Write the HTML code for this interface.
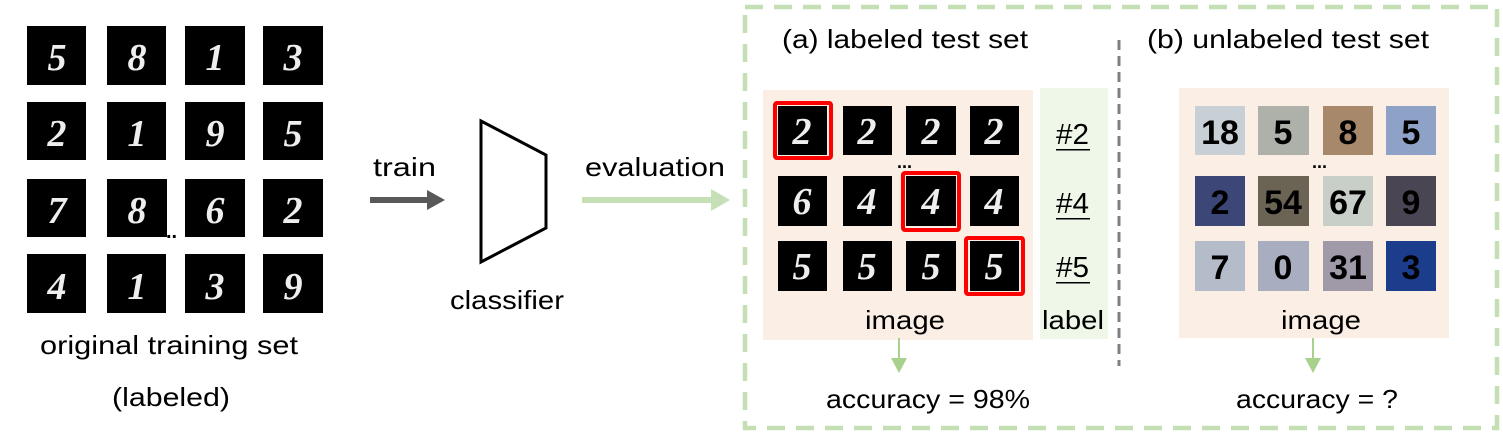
<!DOCTYPE html>
<html><head><meta charset="utf-8"><style>
html,body{margin:0;padding:0;background:#fff;}
svg{display:block;}
text{font-family:"Liberation Sans Narrow","Liberation Sans",sans-serif;fill:#000;}
.d{font-family:"Liberation Serif",serif;font-style:italic;font-weight:bold;fill:#eee;font-size:38px;text-anchor:middle;}
.s{font-family:"Liberation Sans",sans-serif;font-weight:bold;font-size:34px;text-anchor:middle;}
</style></head><body>
<svg width="1503" height="436" viewBox="0 0 1503 436">
<g>
<g fill="#000">
<rect x="27" y="26" width="59" height="59"/><rect x="107" y="26" width="59" height="59"/><rect x="185" y="26" width="60" height="59"/><rect x="263" y="26" width="60" height="59"/>
<rect x="27" y="102" width="59" height="58"/><rect x="107" y="102" width="59" height="58"/><rect x="185" y="102" width="60" height="58"/><rect x="263" y="102" width="60" height="58"/>
<rect x="27" y="179" width="59" height="58"/><rect x="107" y="179" width="60" height="58"/><rect x="185" y="179" width="60" height="58"/><rect x="263" y="179" width="60" height="58"/>
<rect x="27" y="254" width="59" height="59"/><rect x="107" y="254" width="59" height="59"/><rect x="185" y="254" width="60" height="59"/><rect x="263" y="254" width="60" height="59"/>
</g>
<text class="d" x="57" y="70">5</text><text class="d" x="137" y="70">8</text><text class="d" x="215" y="70">1</text><text class="d" x="293" y="70">3</text>
<text class="d" x="57" y="146">2</text><text class="d" x="137" y="146">1</text><text class="d" x="215" y="146">9</text><text class="d" x="293" y="146">5</text>
<text class="d" x="57" y="223">7</text><text class="d" x="137" y="223">8</text><text class="d" x="215" y="223">6</text><text class="d" x="293" y="223">2</text>
<text class="d" x="57" y="299">4</text><text class="d" x="137" y="299">1</text><text class="d" x="215" y="299">3</text><text class="d" x="293" y="299">9</text>
<text x="166" y="238" font-size="20" font-weight="bold">..</text>
</g>
<text x="40" y="354" font-size="26" textLength="258" lengthAdjust="spacingAndGlyphs">original training set</text>
<text x="112" y="406" font-size="26" textLength="118" lengthAdjust="spacingAndGlyphs">(labeled)</text>
<text x="373" y="176" font-size="26" textLength="63" lengthAdjust="spacingAndGlyphs">train</text>
<g>
<rect x="370" y="197" width="58" height="6" fill="#595959"/><polygon points="427,190 445,200 427,210" fill="#595959"/>
</g>
<polygon points="481,121 546,155 546,228 481,262" fill="none" stroke="#000" stroke-width="3"/>
<text x="450" y="309" font-size="26" textLength="114" lengthAdjust="spacingAndGlyphs">classifier</text>
<text x="585" y="176" font-size="26" textLength="140" lengthAdjust="spacingAndGlyphs">evaluation</text>
<g>
<rect x="582" y="197" width="130" height="6" fill="#c5e0b4"/><polygon points="711,189 730,200 711,211" fill="#c5e0b4"/>
</g>
<rect x="745" y="7" width="752" height="421" fill="none" stroke="#c5dfb4" stroke-width="4.5" stroke-dasharray="18,11"/>
<text x="782" y="48" font-size="26" textLength="246" lengthAdjust="spacingAndGlyphs">(a) labeled test set</text>
<text x="1147" y="48" font-size="26" textLength="282" lengthAdjust="spacingAndGlyphs">(b) unlabeled test set</text>
<line x1="1119" y1="40" x2="1119" y2="366" stroke="#7f7f7f" stroke-width="3" stroke-dasharray="10,6"/>
<rect x="763" y="90" width="270" height="250" fill="#fbeee5"/>
<rect x="1040" y="88" width="68" height="251" fill="#eef7e8"/>
<rect x="1179" y="88" width="270" height="250" fill="#fbeee5"/>
<g>
<g fill="#000">
<rect x="778" y="106" width="49" height="49"/><rect x="843" y="106" width="49" height="49"/><rect x="906" y="106" width="50" height="49"/><rect x="970" y="106" width="49" height="49"/>
<rect x="778" y="176" width="49" height="50"/><rect x="843" y="176" width="49" height="50"/><rect x="906" y="176" width="50" height="50"/><rect x="970" y="176" width="49" height="50"/>
<rect x="778" y="241" width="49" height="50"/><rect x="843" y="241" width="49" height="50"/><rect x="906" y="241" width="50" height="50"/><rect x="970" y="241" width="49" height="50"/>
</g>
<text class="d" x="802" y="144" font-size="34">2</text><text class="d" x="867" y="144" font-size="34">2</text><text class="d" x="931" y="144" font-size="34">2</text><text class="d" x="994" y="144" font-size="34">2</text>
<text class="d" x="802" y="214" font-size="34">6</text><text class="d" x="867" y="214" font-size="34">4</text><text class="d" x="931" y="214" font-size="34">4</text><text class="d" x="994" y="214" font-size="34">4</text>
<text class="d" x="802" y="279" font-size="34">5</text><text class="d" x="867" y="279" font-size="34">5</text><text class="d" x="931" y="279" font-size="34">5</text><text class="d" x="994" y="279" font-size="34">5</text>
<g fill="none" stroke="#ff0000" stroke-width="4">
<rect x="775" y="103" width="56" height="55" rx="2"/><rect x="903" y="173" width="56" height="57" rx="2"/><rect x="966" y="238" width="57" height="56" rx="2"/>
</g>
<text x="897" y="168" font-size="18" font-weight="bold">...</text>
</g>
<g font-size="29">
<text x="1056" y="144" textLength="33" lengthAdjust="spacingAndGlyphs">#2</text><rect x="1056" y="149" width="34" height="1.5" fill="#000"/>
<text x="1056" y="213" textLength="33" lengthAdjust="spacingAndGlyphs">#4</text><rect x="1056" y="218" width="34" height="1.5" fill="#000"/>
<text x="1056" y="277" textLength="33" lengthAdjust="spacingAndGlyphs">#5</text><rect x="1056" y="282" width="34" height="1.5" fill="#000"/>
</g>
<text x="1042" y="329" font-size="26" textLength="62" lengthAdjust="spacingAndGlyphs">label</text>
<text x="865" y="329" font-size="26" textLength="80" lengthAdjust="spacingAndGlyphs">image</text>
<g>
<rect x="1195" y="106" width="50" height="49" fill="#c8d0d6"/><rect x="1258" y="106" width="51" height="49" fill="#aeb0aa"/><rect x="1323" y="106" width="50" height="49" fill="#a8886a"/><rect x="1386" y="106" width="50" height="49" fill="#8ea2c8"/>
<rect x="1195" y="176" width="50" height="50" fill="#3c4677"/><rect x="1258" y="176" width="51" height="50" fill="#6b6454"/><rect x="1323" y="176" width="50" height="50" fill="#c8cfc8"/><rect x="1386" y="176" width="50" height="50" fill="#4a4552"/>
<rect x="1195" y="241" width="50" height="50" fill="#b4bcca"/><rect x="1258" y="241" width="51" height="50" fill="#a8aec0"/><rect x="1323" y="241" width="50" height="50" fill="#a09aa8"/><rect x="1386" y="241" width="50" height="50" fill="#1c3c8c"/>
<text class="s" x="1220" y="144" fill="#555">18</text><text class="s" x="1283" y="144" fill="#d4d6d0">5</text><text class="s" x="1348" y="144" fill="#5a4a3a">8</text><text class="s" x="1411" y="144" fill="#3a5aa0">5</text>
<text class="s" x="1220" y="214" fill="#8a7a9a">2</text><text class="s" x="1283" y="214" fill="#c8c4b0" font-size="26">54</text><text class="s" x="1348" y="214" fill="#2a4a50">67</text><text class="s" x="1411" y="214" fill="#1a1a40">9</text>
<text class="s" x="1220" y="279" fill="#fff">7</text><text class="s" x="1283" y="279" fill="#e0e4ee">0</text><text class="s" x="1348" y="279" fill="#3a3050">31</text><text class="s" x="1411" y="279" fill="#fff">3</text>
<text x="1312" y="168" font-size="18" font-weight="bold">...</text>
</g>
<text x="1281" y="329" font-size="26" textLength="80" lengthAdjust="spacingAndGlyphs">image</text>
<g><rect x="898" y="338" width="2" height="22" fill="#a9d18e"/><polygon points="891,358 907,358 899,373" fill="#a9d18e"/></g>
<g><rect x="1312" y="338" width="2" height="22" fill="#a9d18e"/><polygon points="1305,358 1321,358 1313,373" fill="#a9d18e"/></g>
<text x="826" y="408" font-size="26" textLength="204" lengthAdjust="spacingAndGlyphs">accuracy = 98%</text>
<text x="1236" y="408" font-size="26" textLength="162" lengthAdjust="spacingAndGlyphs">accuracy = ?</text>
</svg>
</body></html>
